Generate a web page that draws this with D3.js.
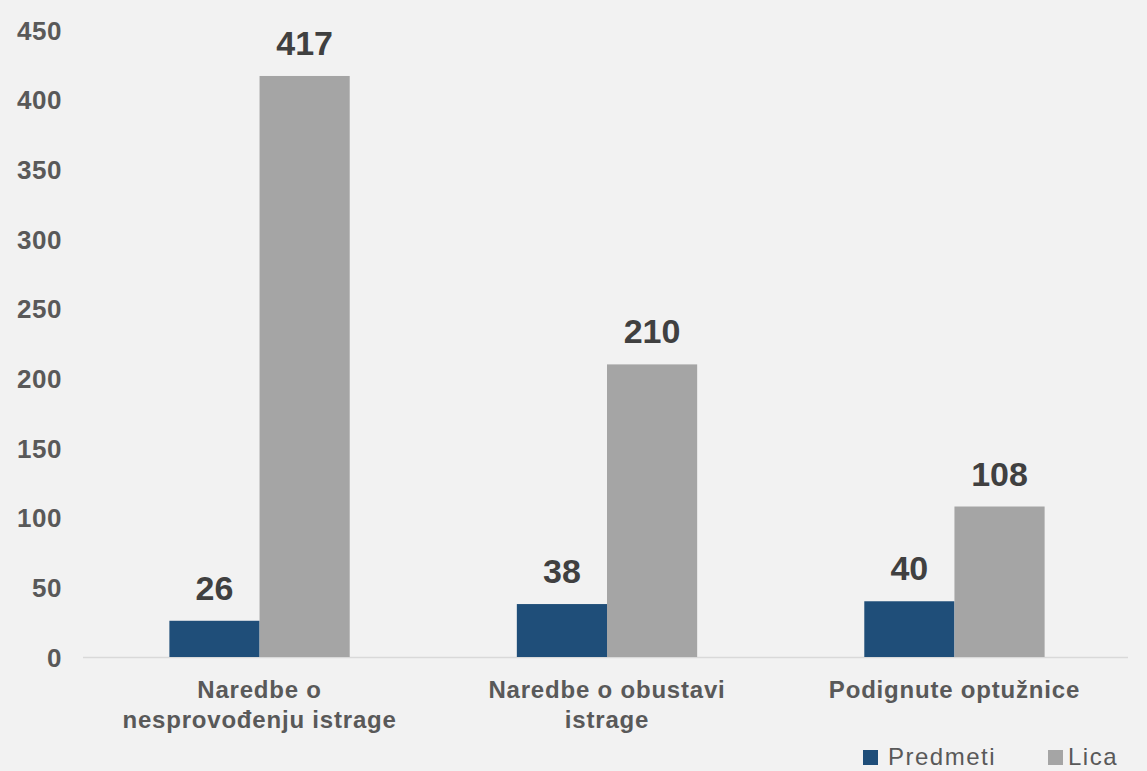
<!DOCTYPE html>
<html><head><meta charset="utf-8">
<script src="https://cdn.jsdelivr.net/npm/d3@7"></script>
<style>html,body{margin:0;padding:0;background:#f2f2f2;}svg{display:block;}</style>
</head><body>
<svg id="c" width="1147" height="771"></svg>
<script>
const categories = [["Naredbe o","nesprovođenju istrage"],["Naredbe o obustavi","istrage"],["Podignute optužnice"]];
const seriesNames = ["Predmeti","Lica"];
const predmeti = [26, 38, 40];
const lica = [417, 210, 108];
const yTicks = [0,50,100,150,200,250,300,350,400,450];
const colors = ["#1f4e79","#a5a5a5"];

const svg = d3.select("#c");
const W = 1147, H = 771;
svg.append("rect").attr("width",W).attr("height",H).attr("fill","#f2f2f2");

const y = d3.scaleLinear().domain([0,450]).range([657,30]);
const keys = categories.map((c,i)=>i);
const x0 = d3.scaleBand().domain(keys).range([86,1128]).paddingInner(0.481).paddingOuter(0.24);
const x1 = d3.scaleBand().domain(seriesNames).range([0,x0.bandwidth()]);
const fontFam = "'Liberation Sans', Arial, sans-serif";

// baseline
svg.append("line").attr("x1",83).attr("x2",1128).attr("y1",y(0)+0.5).attr("y2",y(0)+0.5)
  .attr("stroke","#d9d9d9").attr("stroke-width",1.5);

// y axis labels
const yAxis = d3.axisLeft(y).tickValues(yTicks).tickSize(0).tickPadding(0);
const ga = svg.append("g").attr("transform","translate(62,0)").call(yAxis);
ga.select(".domain").remove();
ga.selectAll("text").attr("font-family",fontFam).attr("font-weight","bold").attr("font-size","26px")
  .attr("letter-spacing","0.5px").attr("fill","#595959").attr("dy","0.35em");

const data = keys.map(i=>({i, vals:[predmeti[i], lica[i]]}));
const groups = svg.selectAll("g.grp").data(data).join("g").attr("class","grp")
  .attr("transform",d=>`translate(${x0(d.i)},0)`);
groups.selectAll("rect").data(d=>d.vals.map((v,k)=>({k,v}))).join("rect")
  .attr("x",d=>x1(seriesNames[d.k])).attr("width",x1.bandwidth())
  .attr("y",d=>y(d.v)).attr("height",d=>y(0)-y(d.v)).attr("fill",d=>colors[d.k]);
groups.selectAll("text.val").data(d=>d.vals.map((v,k)=>({k,v}))).join("text").attr("class","val")
  .attr("x",d=>x1(seriesNames[d.k])+x1.bandwidth()/2).attr("y",d=>y(d.v)-21)
  .attr("text-anchor","middle").attr("font-family",fontFam).attr("font-weight","bold")
  .attr("font-size","34px").attr("fill","#404040").text(d=>d.v);

// category labels
groups.each(function(d){
  const g = d3.select(this);
  const cx = x0.bandwidth()/2;
  categories[d.i].forEach((line,li)=>{
    g.append("text").attr("x",cx).attr("y",698+li*30).attr("text-anchor","middle")
      .attr("font-family",fontFam).attr("font-weight","bold").attr("font-size","24px")
      .attr("letter-spacing","0.8px").attr("fill","#595959").text(line);
  });
});

// legend
const leg = [{name:seriesNames[0],x:863,tx:888},{name:seriesNames[1],x:1048,tx:1068}];
leg.forEach((l,i)=>{
  svg.append("rect").attr("x",l.x).attr("y",750).attr("width",15).attr("height",15).attr("fill",colors[i]);
  svg.append("text").attr("x",l.tx).attr("y",765).attr("font-family",fontFam).attr("font-size","24px")
    .attr("letter-spacing","1.5px").attr("fill","#595959").text(l.name);
});
</script>
</body></html>
